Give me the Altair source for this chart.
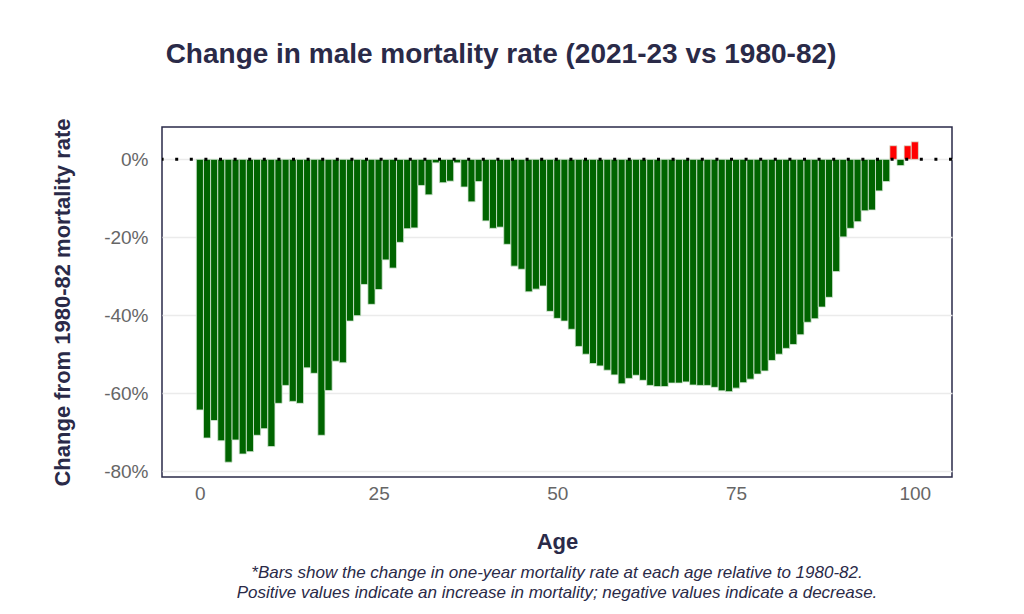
import altair as alt
import pandas as pd

ages = list(range(101))
changes = [
    -64.3, -71.5, -67.0, -72.2, -77.7, -72.0, -75.6, -75.0, -70.8, -69.1,
    -73.7, -62.6, -58.0, -62.1, -62.6, -53.5, -54.9, -70.8, -59.3, -51.8,
    -52.2, -41.5, -40.1, -32.1, -37.2, -33.4, -25.8, -27.9, -21.3, -17.8,
    -17.6, -6.7, -9.1, -0.9, -6.0, -5.6, -0.9, -7.1, -10.9, -5.7,
    -15.8, -17.7, -17.4, -21.8, -27.4, -28.2, -34.0, -33.3, -32.5, -39.0,
    -40.8, -41.5, -43.6, -48.0, -50.0, -52.4, -53.0, -54.1, -55.3, -57.6,
    -56.2, -55.4, -56.7, -58.0, -58.3, -58.3, -57.4, -57.4, -57.1, -57.9,
    -58.0, -58.0, -58.5, -59.4, -59.6, -58.7, -57.3, -56.4, -55.1, -54.3,
    -51.6, -50.0, -48.5, -47.5, -45.0, -41.8, -40.9, -37.9, -35.4, -28.8,
    -19.9, -17.7, -16.0, -13.2, -13.0, -8.1, -5.7, 3.5, -1.6, 3.5, 4.5,
]
x_ticks = [0, 25, 50, 75, 100]
y_ticks = [0, -20, -40, -60, -80]
title_text = "Change in male mortality rate (2021-23 vs 1980-82)"
footnote = ("*Bars show the change in one-year mortality rate at each age relative to 1980-82.\n"
            "Positive values indicate an increase in mortality; negative values indicate a decrease.")

df = pd.DataFrame({"age": ages, "change": changes})
NAVY = "#2a2a48"
FONT = "Liberation Sans"

xscale = alt.Scale(domain=[-5.3, 105.2], nice=False, zero=False)
yscale = alt.Scale(domain=[-81.5, 8.3], nice=False, zero=False)

bars = alt.Chart(df).transform_calculate(
    x0="datum.age - 0.5", x1="datum.age + 0.5"
).mark_bar(stroke="#d6e9d6", strokeWidth=0.8).encode(
    x=alt.X("x0:Q", scale=xscale,
            axis=alt.Axis(values=x_ticks, title="Age", grid=False, ticks=False, domain=False,
                          labelPadding=7, titleY=64, titleBaseline="middle")),
    x2="x1:Q",
    y=alt.Y("change:Q", scale=yscale,
            axis=alt.Axis(values=y_ticks, title="Change from 1980-82 mortality rate",
                          labelExpr="datum.value + '%'", ticks=False, domain=False,
                          labelPadding=14, grid=True,
                          titleX=-100, titleY=175, titleAngle=270,
                          titleAlign="center", titleBaseline="middle")),
    y2=alt.datum(0),
    color=alt.condition("datum.change > 0", alt.value("#ff0000"), alt.value("#006400")),
)

zero_line = alt.Chart(pd.DataFrame({"zero": [0]})).mark_rule(
    color="black", strokeWidth=3, strokeDash=[3, 11.6]
).encode(y=alt.Y("zero:Q", scale=yscale))

note = alt.Chart(pd.DataFrame({"t": [footnote]})).mark_text(
    font=FONT, fontSize=17, fontStyle="italic", color=NAVY, lineBreak="\n",
    lineHeight=19.5, align="center", baseline="middle"
).encode(text="t:N", x=alt.value(395), y=alt.value(446))

chart = alt.layer(bars, zero_line, note).properties(
    width=790, height=350,
    autosize=alt.AutoSizeParams(type="none"),
    padding={"left": 154, "top": 119, "right": 60, "bottom": 130},
    title=alt.TitleParams(title_text, fontSize=28, fontWeight="bold", color=NAVY, font=FONT,
                          anchor="middle", dx=-56, offset=27, baseline="alphabetic", frame="group"),
).configure_view(stroke=NAVY, strokeWidth=1.5).configure_axis(
    labelFont=FONT, labelFontSize=19, labelColor="#666666",
    titleFont=FONT, titleFontSize=22, titleFontWeight="bold", titleColor=NAVY,
    gridColor="#ebebeb", gridWidth=1.5,
)

chart.save("out.html", embed_options={"renderer": "svg", "actions": False})
